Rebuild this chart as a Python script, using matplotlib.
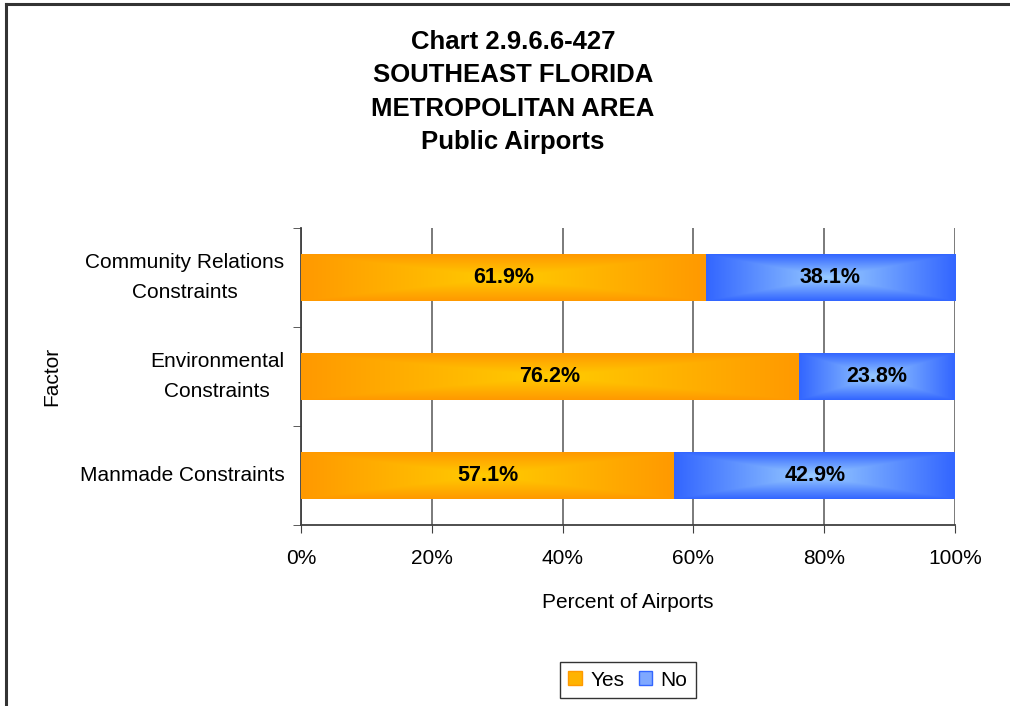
import numpy as np
import matplotlib
matplotlib.use("Agg")
import matplotlib.pyplot as plt
from matplotlib.patches import Patch
from matplotlib.lines import Line2D
from matplotlib.colors import to_rgb

plt.rcParams['font.family'] = ['Liberation Sans', 'DejaVu Sans']

categories = ["Manmade Constraints", "Environmental\nConstraints", "Community Relations\nConstraints"]
yes_vals = [57.1, 76.2, 61.9]
no_vals = [42.9, 23.8, 38.1]
series_names = ["Yes", "No"]
xticks = [0, 20, 40, 60, 80, 100]
xtick_labels = ["0%", "20%", "40%", "60%", "80%", "100%"]
title_lines = ["Chart 2.9.6.6-427", "SOUTHEAST FLORIDA", "METROPOLITAN AREA", "Public Airports"]

orange_edge, orange_center = "#FF9900", "#FFCC00"
blue_edge, blue_center = "#3366FF", "#99CCFF"

W, H = 1010, 706
fig = plt.figure(figsize=(W / 100, H / 100), dpi=100)
ax = fig.add_axes([301 / W, 1 - 525 / H, (955 - 301) / W, (525 - 228) / H])

def grad_img(edge, center, nx=200, ny=60, gamma=1.0):
    u = np.linspace(-1, 1, nx)
    v = np.linspace(-1, 1, ny)
    U, V = np.meshgrid(u, v)
    t = np.maximum(np.abs(U), np.abs(V)) ** gamma
    e = np.array(to_rgb(edge))
    c = np.array(to_rgb(center))
    return c[None, None, :] * (1 - t[..., None]) + e[None, None, :] * t[..., None]

bar_h = 0.47
y = np.arange(len(categories))
for i in range(len(categories)):
    left = 0
    for vals, (ec, cc) in ((yes_vals, (orange_edge, orange_center)), (no_vals, (blue_edge, blue_center))):
        w = vals[i]
        img = grad_img(ec, cc)
        ax.imshow(img, extent=[left, left + w, y[i] - bar_h / 2, y[i] + bar_h / 2],
                  aspect='auto', zorder=3, interpolation='bilinear')
        ax.text(left + w / 2, y[i], f"{w:.1f}%", ha='center', va='center',
                fontsize=15.5, fontweight='bold', color='black', zorder=4)
        left += w

ax.set_xlim(0, 100)
ax.set_ylim(-0.5, len(categories) - 0.5)
ax.set_xticks(xticks)
ax.set_xticklabels(xtick_labels, fontsize=15)
ax.set_yticks(y)
ax.set_yticklabels(categories, fontsize=15, ha='right', va='center',
                   multialignment='center', linespacing=1.75)
ax.set_yticks(np.arange(-0.5, len(categories)), minor=True)
ax.tick_params(axis='y', which='major', length=0, pad=12)
ax.tick_params(axis='y', which='minor', length=6, direction='out', color='#404040')
ax.tick_params(axis='x', length=6, direction='out', color='#404040', pad=11)
ax.grid(axis='x', color='#707070', linewidth=1.3, zorder=1)
ax.set_axisbelow(True)
for s in ('top', 'right'):
    ax.spines[s].set_visible(False)
for s in ('left', 'bottom'):
    ax.spines[s].set_color('#404040')
    ax.spines[s].set_linewidth(1.3)

ax.set_xlabel("Percent of Airports", fontsize=15, labelpad=18)
ax.set_ylabel("Factor", fontsize=15)
ax.yaxis.set_label_coords(-(301 - 61) / (955 - 301), 0.5)

for k, line in enumerate(title_lines):
    fig.text(513 / W, 1 - (42 + 33.3 * k) / H, line, ha='center', va='center',
             fontsize=18.5, fontweight='bold')

handles = [Patch(facecolor="#FFB300", edgecolor="#FF9900", label=series_names[0]),
           Patch(facecolor="#7FA8FF", edgecolor="#3366FF", label=series_names[1])]
leg = fig.legend(handles=handles, loc='center', bbox_to_anchor=(628 / W, 1 - 680 / H),
                 ncol=2, frameon=True, fancybox=False, fontsize=15,
                 handlelength=0.65, handleheight=0.65, handletextpad=0.4, columnspacing=0.7,
                 borderpad=0.42)
leg.get_frame().set_edgecolor('black')
leg.get_frame().set_linewidth(1.0)

# figure border (top and left)
fig.add_artist(Line2D([6 / W, 6 / W], [0, 1 - 4 / H], transform=fig.transFigure, color='#333333', linewidth=2.2))
fig.add_artist(Line2D([6 / W, 1], [1 - 4 / H, 1 - 4 / H], transform=fig.transFigure, color='#333333', linewidth=2.2))

fig.savefig("out.png", dpi=100)
